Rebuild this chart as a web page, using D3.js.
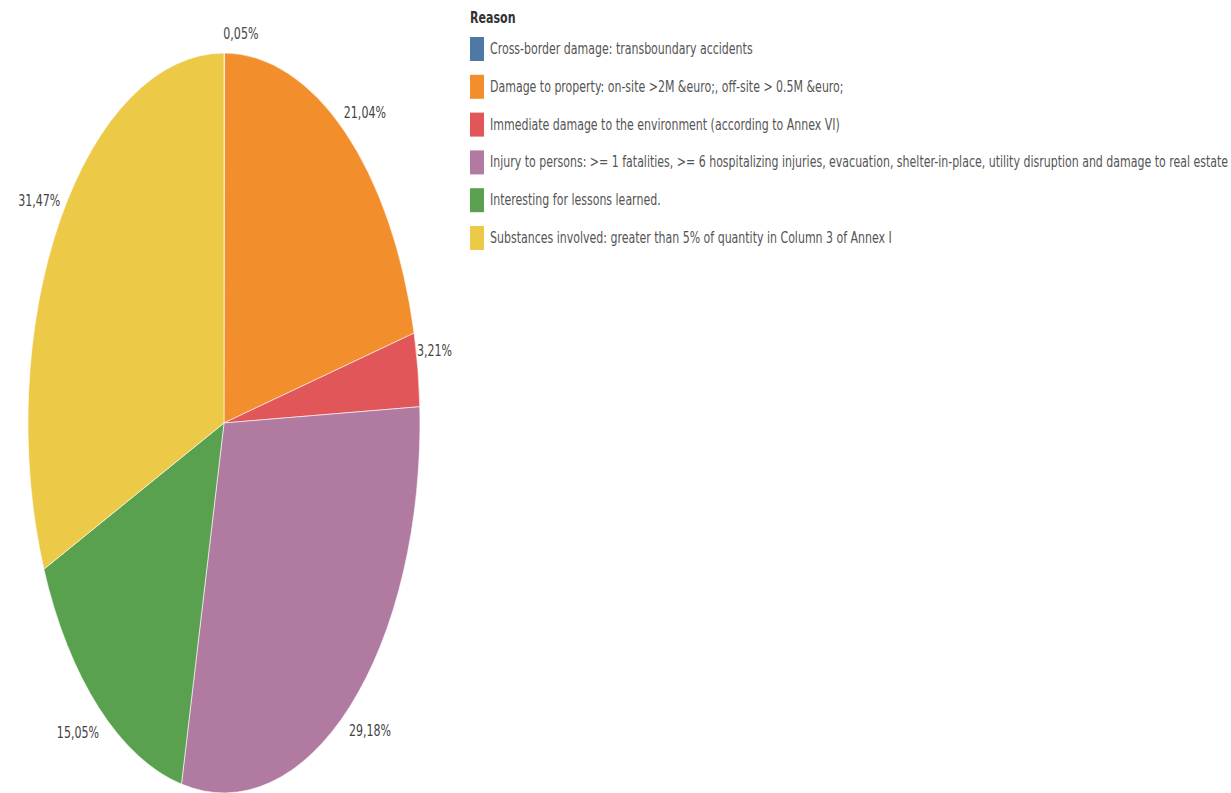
<!DOCTYPE html>
<html>
<head>
<meta charset="utf-8">
<title>Reason pie</title>
<style>
  html, body { margin: 0; padding: 0; background: white; }
  svg { display: block; }
  text { font-family: "Liberation Sans Narrow", "DejaVu Sans Condensed", "Roboto Condensed", sans-serif; }
</style>
</head>
<body>
<script src="https://cdn.jsdelivr.net/npm/d3@7"></script>
<script>
// données
var reasons = [
  "Cross-border damage: transboundary accidents",
  "Damage to property: on-site >2M &euro;, off-site > 0.5M &euro;",
  "Immediate damage to the environment (according to Annex VI)",
  "Injury to persons: >= 1 fatalities, >= 6 hospitalizing injuries, evacuation, shelter-in-place, utility disruption and damage to real estate",
  "Interesting for lessons learned.",
  "Substances involved: greater than 5% of quantity in Column 3 of Annex I"
];
var shares = [0.05, 21.04, 3.21, 29.18, 15.05, 31.47];
var labels = ["0,05%", "21,04%", "3,21%", "29,18%", "15,05%", "31,47%"];
var colors = ["#4e79a7", "#f28e2b", "#e15759", "#b07aa1", "#59a14f", "#edc948"];

var width = 1231, height = 793;
var cx = 224, cy = 423, rx = 196, ry = 370;

var svg = d3.select("body").append("svg")
  .attr("width", width)
  .attr("height", height);

var pie = d3.pie().sort(null).value(function(d) { return d; });
var arcs = pie(shares);
var arc = d3.arc().innerRadius(0).outerRadius(1);

// le camembert est étiré : on dessine sur un cercle unité puis on met à l'échelle
var g = svg.append("g")
  .attr("transform", "translate(" + cx + "," + cy + ") scale(" + rx + "," + ry + ")");

g.selectAll("path")
  .data(arcs)
  .enter().append("path")
  .attr("d", arc)
  .attr("fill", function(d, i) { return colors[i]; })
  .attr("stroke", "white")
  .attr("stroke-width", 0.6)
  .attr("vector-effect", "non-scaling-stroke");

// police condensée : on resserre le texte horizontalement
var squeeze = 0.82;
function place(sel, x, y) {
  sel.attr("x", 0).attr("y", 0)
    .attr("transform", "translate(" + x + "," + y + ") scale(" + squeeze + ",1)");
}

// étiquettes placées juste à l'extérieur du bord
svg.selectAll("text.lbl")
  .data(arcs)
  .enter().append("text")
  .attr("class", "lbl")
  .attr("font-size", 15)
  .attr("fill", "#444")
  .text(function(d, i) { return labels[i]; })
  .each(function(d, i) {
    var a = (d.startAngle + d.endAngle) / 2;
    var bx = cx + rx * Math.sin(a);
    var by = cy - ry * Math.cos(a);
    var right = Math.sin(a) >= -0.001;
    var top = Math.cos(a) > 0;
    var t = d3.select(this).attr("text-anchor", right ? "start" : "end");
    place(t, right ? bx - 1 : bx, top ? by - 14 : by + 30);
  });

// légende
var legend = svg.append("g").attr("transform", "translate(470,0)");
var title = legend.append("text")
  .attr("font-size", 15)
  .attr("font-weight", "bold")
  .attr("fill", "#333")
  .text("Reason");
place(title, 0, 23);

var rows = legend.selectAll("g.row")
  .data(reasons)
  .enter().append("g")
  .attr("class", "row")
  .attr("transform", function(d, i) { return "translate(0," + (49 + i * 37.8) + ")"; });

rows.append("rect")
  .attr("x", 0).attr("y", -12)
  .attr("width", 14).attr("height", 24)
  .attr("fill", function(d, i) { return colors[i]; });

rows.append("text")
  .attr("font-size", 15)
  .attr("fill", "#555")
  .text(function(d) { return d; })
  .each(function() { place(d3.select(this), 20, 5); });

// la ligne la plus longue doit tenir jusqu'au bord droit
var longest = d3.max(rows.selectAll("text").nodes(), function(n) { return n.getComputedTextLength(); });
var fit = 738 / longest;
if (fit < squeeze) {
  squeeze = fit;
  rows.selectAll("text").each(function() { place(d3.select(this), 20, 5); });
}
</script>
</body>
</html>
